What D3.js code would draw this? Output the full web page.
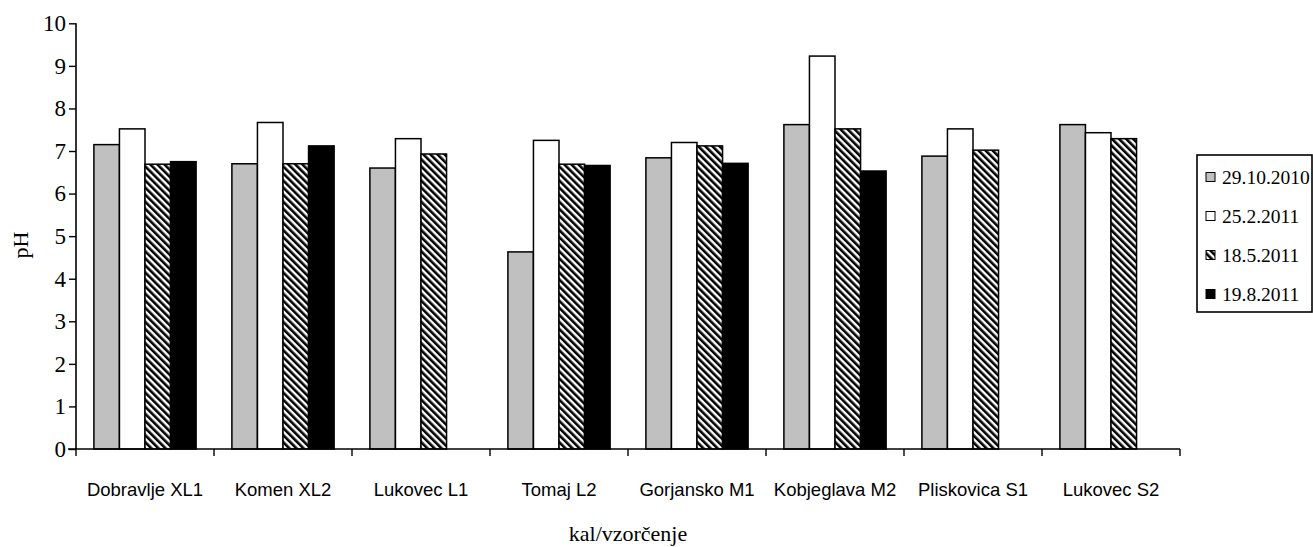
<!DOCTYPE html>
<html>
<head>
<meta charset="utf-8">
<script src="https://cdn.jsdelivr.net/npm/d3@7"></script>
<style>
  html, body { margin: 0; padding: 0; background: #fff; }
  svg { display: block; }
</style>
</head>
<body>
<svg id="chart" width="1313" height="547"></svg>
<script>
// Sampling sites
const categories = ["Dobravlje XL1", "Komen XL2", "Lukovec L1", "Tomaj L2",
                    "Gorjansko M1", "Kobjeglava M2", "Pliskovica S1", "Lukovec S2"];
// Sampling dates (series)
const seriesNames = ["29.10.2010", "25.2.2011", "18.5.2011", "19.8.2011"];
// pH per site for each sampling date (null = no sample)
const ph_29_10_2010 = [7.15, 6.70, 6.60, 4.63, 6.84, 7.62, 6.88, 7.62];
const ph_25_2_2011  = [7.52, 7.67, 7.29, 7.25, 7.20, 9.23, 7.52, 7.43];
const ph_18_5_2011  = [6.69, 6.70, 6.93, 6.69, 7.12, 7.52, 7.02, 7.29];
const ph_19_8_2011  = [6.75, 7.12, null, 6.66, 6.71, 6.53, null, null];
const yTicks = [0, 1, 2, 3, 4, 5, 6, 7, 8, 9, 10];

const seriesValues = [ph_29_10_2010, ph_25_2_2011, ph_18_5_2011, ph_19_8_2011];

const svg = d3.select("#chart");

// Hatched fill for the third series
const defs = svg.append("defs");
const pat = defs.append("pattern")
  .attr("id", "hatch")
  .attr("patternUnits", "userSpaceOnUse")
  .attr("width", 5).attr("height", 5)
  .attr("patternTransform", "rotate(-45)");
pat.append("rect").attr("width", 5).attr("height", 5).attr("fill", "#fff");
pat.append("rect").attr("x", 0).attr("y", 0).attr("width", 2.6).attr("height", 5).attr("fill", "#000");

const fills = ["#c0c0c0", "#ffffff", "url(#hatch)", "#000000"];

const plot = { left: 76, right: 1180, top: 23.3, bottom: 449 };

const x0 = d3.scaleBand().domain(categories).range([plot.left, plot.right]).paddingInner(0).paddingOuter(0);
const x1 = d3.scaleBand().domain(seriesNames).range([0, x0.bandwidth()]).paddingInner(0).paddingOuter(0.7);
const y = d3.scaleLinear().domain([0, 10]).range([plot.bottom, plot.top]);

// Bars
const groups = svg.append("g").selectAll("g")
  .data(categories)
  .join("g")
  .attr("transform", d => `translate(${x0(d)},0)`);

groups.selectAll("rect")
  .data((c, ci) => seriesNames.map((s, si) => ({ s, si, v: seriesValues[si][ci] })).filter(d => d.v != null))
  .join("rect")
  .attr("x", d => x1(d.s))
  .attr("y", d => y(d.v))
  .attr("width", x1.bandwidth())
  .attr("height", d => y(0) - y(d.v))
  .attr("fill", d => fills[d.si])
  .attr("stroke", "#000")
  .attr("stroke-width", 1.5);

// Y axis
const yAxis = svg.append("g")
  .attr("transform", `translate(${plot.left},0)`)
  .call(d3.axisLeft(y).tickValues(yTicks).tickFormat(d3.format("d")).tickSize(7).tickPadding(3));
yAxis.select(".domain").attr("stroke", "#000").attr("stroke-width", 1.6)
  .attr("d", `M0,${plot.top}V${plot.bottom}`);
yAxis.selectAll(".tick line").attr("stroke", "#000").attr("stroke-width", 1.4);
yAxis.selectAll(".tick text")
  .attr("font-family", "'Liberation Serif', 'Times New Roman', serif")
  .attr("font-size", 23).attr("fill", "#000");

// X axis with ticks at category boundaries
const xAxis = svg.append("g")
  .attr("transform", `translate(0,${plot.bottom})`)
  .call(d3.axisBottom(x0).tickSize(0).tickPadding(34));
xAxis.select(".domain").attr("stroke", "#000").attr("stroke-width", 1.6)
  .attr("d", `M${plot.left - 8},0H${plot.right}`);
xAxis.selectAll(".tick text")
  .attr("font-family", "'Liberation Sans', Arial, sans-serif")
  .attr("font-size", 18.5).attr("fill", "#000");

const boundaries = categories.map(c => x0(c)).concat([plot.right]);
xAxis.selectAll("line.bound")
  .data(boundaries)
  .join("line")
  .attr("class", "bound")
  .attr("x1", d => d).attr("x2", d => d)
  .attr("y1", 0).attr("y2", 7)
  .attr("stroke", "#000").attr("stroke-width", 1.4);

// Axis titles
svg.append("text")
  .attr("transform", `translate(28,${(plot.top + plot.bottom) / 2 + 9}) rotate(-90)`)
  .attr("text-anchor", "middle")
  .attr("font-family", "'Liberation Serif', 'Times New Roman', serif")
  .attr("font-size", 22).attr("fill", "#000")
  .text("pH");

svg.append("text")
  .attr("x", (plot.left + plot.right) / 2)
  .attr("y", 541)
  .attr("text-anchor", "middle")
  .attr("font-family", "'Liberation Serif', 'Times New Roman', serif")
  .attr("font-size", 22).attr("fill", "#000")
  .text("kal/vzorčenje");

// Legend
const legend = svg.append("g");
legend.append("rect")
  .attr("x", 1197).attr("y", 155)
  .attr("width", 115).attr("height", 157)
  .attr("fill", "#fff").attr("stroke", "#000").attr("stroke-width", 1.6);

const rowY = d3.scalePoint().domain(seriesNames).range([177, 294]);
const items = legend.selectAll("g.item")
  .data(seriesNames)
  .join("g")
  .attr("class", "item")
  .attr("transform", d => `translate(1206,${rowY(d)})`);
items.append("rect")
  .attr("x", 0).attr("y", -4.5)
  .attr("width", 9).attr("height", 9)
  .attr("fill", (d, i) => fills[i])
  .attr("stroke", "#000").attr("stroke-width", 1);
items.append("text")
  .attr("x", 16).attr("y", 7)
  .attr("font-family", "'Liberation Serif', 'Times New Roman', serif")
  .attr("font-size", 19.5).attr("fill", "#000")
  .text(d => d);
</script>
</body>
</html>
